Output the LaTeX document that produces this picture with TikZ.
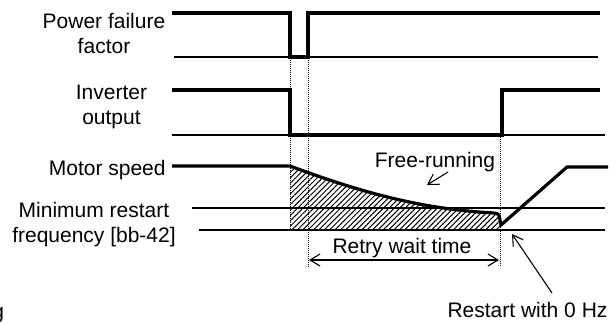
\documentclass[tikz,border=0pt]{standalone}
\usepackage{fontspec}
\setmainfont{Liberation Sans}
\usetikzlibrary{arrows.meta, patterns.meta}

\begin{document}
\begin{tikzpicture}[
    x=0.5pt, y=-0.5pt,
    every node/.style={font=\fontsize{10.5}{12.5}\selectfont, inner sep=0pt},
    sigtext/.style={align=center},
    signal/.style={line width=1.6pt, line join=miter},
    zeroline/.style={line width=0.55pt},
    guide/.style={line width=0.4pt, dash pattern=on 0.4pt off 0.6pt},
    pointer/.style={line width=0.55pt, -{Straight Barb[length=5pt, width=6pt]}},
    span/.style={line width=0.55pt, {Straight Barb[length=5pt, width=6pt]}-{Straight Barb[length=5pt, width=6pt]}},
    hatch/.style={pattern={Lines[angle=45, distance=1.9pt, line width=0.5pt]}}
]
\useasboundingbox (0,0) rectangle (611,323);

% Signal names
\node[sigtext] (pfname) at (104,33) {Power failure\\factor};
\node[sigtext] (invname) at (111.5,107) {Inverter\\output};
\node[anchor=base east] (motname) at (166,175) {Motor speed};
\node[sigtext] (minname) at (94,225) {Minimum restart\\frequency [bb-42]};
\node[anchor=base east] (cutname) at (4.5,318) {g};

% Time marks
\coordinate (tfail) at (290,0);
\coordinate (tback) at (308,0);
\coordinate (tretry) at (500,0);

% Hatched free-running area
\fill[hatch] (290,166) .. controls (360,192) and (420,209) .. (494,213)
    .. controls (499,214) .. (500,220) -- (500,230) -- (290,230) -- cycle;

% Zero and level lines
\draw[zeroline] (174,57) -- (598,57);
\draw[zeroline] (172,135) -- (605,135);
\draw[zeroline] (192,208) -- (605,208);
\draw[zeroline] (199,230) -- (605,230);

% Dotted guides
\draw[guide] (tfail |- 0,58) -- (tfail |- 0,230);
\draw[guide] (tback |- 0,58) -- (tback |- 0,267);
\draw[guide] (tretry |- 0,137) -- (tretry |- 0,267);

% Signals
\draw[signal] (172,13) -- (290,13) -- (290,57) -- (308,57) -- (308,13) -- (600,13);
\draw[signal] (172,90) -- (290,90) -- (290,135) -- (502,135) -- (502,90) -- (600,90);
\draw[signal] (172,166) -- (290,166) .. controls (360,192) and (420,209) .. (494,213)
    .. controls (499,214) .. (500,220) -- (501,225) -- (567,167) -- (608,167);

% Annotations
\node[anchor=base] (freerun) at (435,167) {Free-running};
\coordinate (freetail) at (448,172);
\coordinate (freehead) at (427,185);
\draw[pointer] (freetail) -- (freehead);

\node[anchor=base] (retry) at (402,253) {Retry wait time};
\coordinate (retryl) at (309,260);
\coordinate (retryr) at (499,260);
\draw[span] (retryl) -- (retryr);

\node[anchor=base] (restart) at (527.5,317) {Restart with 0 Hz};
\coordinate (resttail) at (552,293);
\coordinate (resthead) at (512,234);
\draw[pointer] (resttail) -- (resthead);

\end{tikzpicture}
\end{document}
